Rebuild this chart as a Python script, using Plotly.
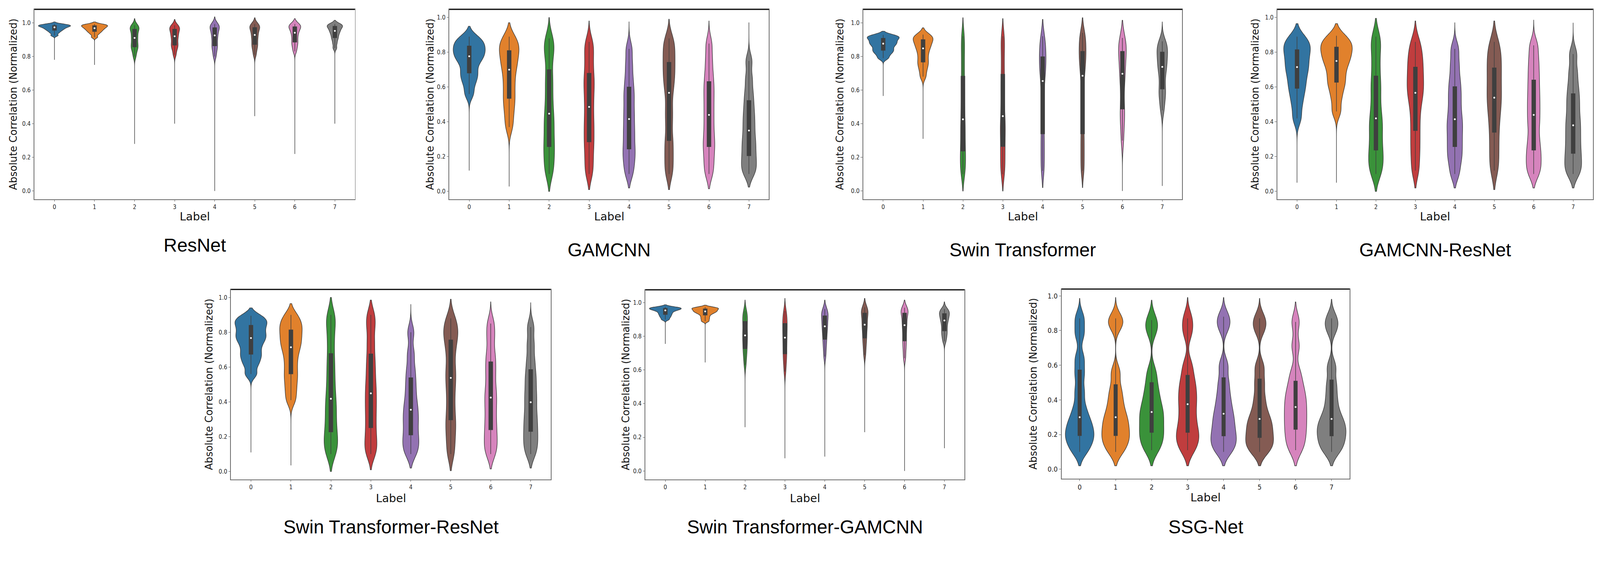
import numpy as np
import plotly.graph_objects as go

W, H = 4274, 1451

LABELS = [0, 1, 2, 3, 4, 5, 6, 7]
COLORS = ["#3274a1", "#e1812c", "#3a923a", "#c03d3e", "#9372b2", "#845b53", "#d684bd", "#7f7f7f"]
TITLES = ["ResNet", "GAMCNN", "Swin Transformer", "GAMCNN-ResNet",
          "Swin Transformer-ResNet", "Swin Transformer-GAMCNN", "SSG-Net"]
Y_TICKS = [0.0, 0.2, 0.4, 0.6, 0.8, 1.0]

# ---- per-label value samples (approx. quantiles) ----
RESNET = [
    [0.925, 0.94, 0.95, 0.957, 0.963, 0.968, 0.973, 0.977, 0.98, 0.983, 0.986, 0.989, 0.993],
    [0.915, 0.932, 0.943, 0.95, 0.957, 0.963, 0.968, 0.973, 0.977, 0.982, 0.985, 0.988, 0.992],
    [0.8, 0.83, 0.848, 0.86, 0.875, 0.893, 0.91, 0.925, 0.942, 0.96, 0.968, 0.976, 0.985],
    [0.81, 0.84, 0.858, 0.87, 0.887, 0.905, 0.92, 0.933, 0.947, 0.96, 0.968, 0.976, 0.985],
    [0.8, 0.83, 0.852, 0.867, 0.888, 0.907, 0.925, 0.94, 0.955, 0.969, 0.977, 0.985, 0.993],
    [0.81, 0.84, 0.86, 0.875, 0.895, 0.912, 0.928, 0.943, 0.957, 0.97, 0.977, 0.985, 0.993],
    [0.83, 0.855, 0.874, 0.889, 0.908, 0.925, 0.941, 0.953, 0.965, 0.975, 0.981, 0.987, 0.993],
    [0.85, 0.878, 0.9, 0.915, 0.93, 0.942, 0.952, 0.961, 0.97, 0.978, 0.983, 0.988, 0.993],
]
RESNET_TOP = [1.005, 1.005, 1.025, 1.02, 1.035, 1.03, 1.025, 1.015]
RESNET_BOTTOM = [0.78, 0.75, 0.28, 0.40, 0.0, 0.445, 0.22, 0.40]

GAMCNN = [
    [0.56, 0.62, 0.66, 0.688, 0.73, 0.757, 0.777, 0.795, 0.812, 0.832, 0.85, 0.868, 0.89],
    [0.37, 0.44, 0.5, 0.547, 0.6, 0.65, 0.70, 0.735, 0.77, 0.803, 0.83, 0.856, 0.89],
    [0.1, 0.16, 0.22, 0.27, 0.33, 0.39, 0.447, 0.52, 0.6, 0.677, 0.77, 0.83, 0.88],
    [0.1, 0.17, 0.24, 0.30, 0.36, 0.42, 0.486, 0.55, 0.61, 0.663, 0.73, 0.8, 0.86],
    [0.1, 0.16, 0.21, 0.255, 0.31, 0.36, 0.416, 0.47, 0.53, 0.584, 0.65, 0.73, 0.82],
    [0.1, 0.17, 0.24, 0.31, 0.4, 0.48, 0.567, 0.63, 0.68, 0.73, 0.78, 0.83, 0.88],
    [0.1, 0.16, 0.22, 0.27, 0.32, 0.38, 0.44, 0.5, 0.56, 0.616, 0.68, 0.76, 0.85],
    [0.1, 0.135, 0.175, 0.215, 0.26, 0.3, 0.35, 0.4, 0.45, 0.507, 0.57, 0.65, 0.75],
]
GAMCNN_TOP = [0.95, 0.97, 1.0, 0.98, 0.975, 0.99, 0.98, 0.97]
GAMCNN_BOTTOM = [0.12, 0.03, 0.0, 0.01, 0.02, 0.01, 0.015, 0.025]

SWIN = [
    [0.79, 0.812, 0.828, 0.839, 0.853, 0.866, 0.876, 0.885, 0.895, 0.906, 0.913, 0.92, 0.928],
    [0.68, 0.72, 0.75, 0.772, 0.8, 0.825, 0.848, 0.864, 0.88, 0.897, 0.908, 0.918, 0.93],
    [0.1, 0.15, 0.2, 0.25, 0.31, 0.37, 0.426, 0.5, 0.58, 0.66, 0.75, 0.84, 0.92],
    [0.1, 0.16, 0.22, 0.28, 0.34, 0.39, 0.445, 0.52, 0.6, 0.672, 0.76, 0.85, 0.92],
    [0.12, 0.2, 0.28, 0.36, 0.47, 0.57, 0.654, 0.71, 0.75, 0.788, 0.83, 0.87, 0.92],
    [0.12, 0.2, 0.28, 0.36, 0.49, 0.6, 0.685, 0.74, 0.785, 0.82, 0.86, 0.9, 0.94],
    [0.3, 0.39, 0.45, 0.5, 0.58, 0.65, 0.697, 0.745, 0.785, 0.822, 0.855, 0.882, 0.91],
    [0.48, 0.54, 0.58, 0.615, 0.665, 0.71, 0.738, 0.765, 0.795, 0.82, 0.845, 0.867, 0.89],
]
SWIN_TOP = [0.95, 0.97, 1.03, 1.025, 1.02, 1.03, 1.015, 1.005]
SWIN_BOTTOM = [0.565, 0.31, 0.0, 0.0, 0.02, 0.02, 0.0, 0.03]

GAMCNN_RESNET = [
    [0.42, 0.5, 0.56, 0.604, 0.645, 0.685, 0.715, 0.745, 0.78, 0.808, 0.835, 0.858, 0.89],
    [0.46, 0.54, 0.6, 0.637, 0.68, 0.72, 0.75, 0.775, 0.8, 0.825, 0.845, 0.867, 0.895],
    [0.1, 0.15, 0.2, 0.25, 0.31, 0.37, 0.42, 0.49, 0.57, 0.642, 0.73, 0.82, 0.89],
    [0.12, 0.21, 0.29, 0.37, 0.45, 0.52, 0.567, 0.61, 0.655, 0.703, 0.75, 0.8, 0.86],
    [0.1, 0.17, 0.22, 0.27, 0.32, 0.37, 0.415, 0.47, 0.53, 0.587, 0.65, 0.73, 0.82],
    [0.12, 0.2, 0.28, 0.36, 0.43, 0.49, 0.539, 0.59, 0.645, 0.697, 0.75, 0.8, 0.86],
    [0.1, 0.15, 0.2, 0.25, 0.31, 0.38, 0.44, 0.5, 0.56, 0.624, 0.69, 0.76, 0.84],
    [0.1, 0.14, 0.185, 0.23, 0.28, 0.33, 0.38, 0.43, 0.49, 0.546, 0.61, 0.69, 0.79],
]
GAMCNN_RESNET_TOP = [0.965, 0.965, 0.995, 0.98, 0.97, 0.98, 0.985, 0.97]
GAMCNN_RESNET_BOTTOM = [0.05, 0.05, 0.0, 0.02, 0.02, 0.01, 0.02, 0.02]

SWIN_RESNET = [
    [0.56, 0.615, 0.652, 0.681, 0.715, 0.745, 0.767, 0.787, 0.81, 0.835, 0.855, 0.873, 0.895],
    [0.41, 0.47, 0.525, 0.573, 0.625, 0.675, 0.714, 0.745, 0.775, 0.807, 0.835, 0.862, 0.9],
    [0.1, 0.145, 0.19, 0.24, 0.3, 0.36, 0.418, 0.49, 0.57, 0.654, 0.75, 0.84, 0.9],
    [0.1, 0.15, 0.205, 0.267, 0.33, 0.39, 0.449, 0.51, 0.58, 0.654, 0.74, 0.83, 0.9],
    [0.1, 0.14, 0.18, 0.22, 0.27, 0.31, 0.355, 0.4, 0.46, 0.522, 0.59, 0.68, 0.8],
    [0.1, 0.18, 0.25, 0.312, 0.39, 0.47, 0.538, 0.6, 0.68, 0.745, 0.79, 0.83, 0.88],
    [0.1, 0.15, 0.2, 0.253, 0.31, 0.37, 0.425, 0.48, 0.55, 0.614, 0.68, 0.77, 0.85],
    [0.1, 0.15, 0.195, 0.242, 0.29, 0.34, 0.398, 0.45, 0.51, 0.568, 0.64, 0.73, 0.83],
]
SWIN_RESNET_TOP = [0.94, 0.965, 1.0, 0.985, 0.96, 0.99, 0.975, 0.97]
SWIN_RESNET_BOTTOM = [0.11, 0.035, 0.0, 0.01, 0.02, 0.005, 0.015, 0.02]

SWIN_GAMCNN = [
    [0.9, 0.913, 0.923, 0.932, 0.94, 0.948, 0.954, 0.958, 0.962, 0.965, 0.968, 0.971, 0.975],
    [0.89, 0.904, 0.917, 0.929, 0.937, 0.943, 0.948, 0.952, 0.957, 0.962, 0.966, 0.969, 0.973],
    [0.63, 0.675, 0.707, 0.733, 0.76, 0.785, 0.805, 0.83, 0.855, 0.883, 0.905, 0.927, 0.95],
    [0.59, 0.64, 0.675, 0.703, 0.735, 0.765, 0.792, 0.82, 0.845, 0.87, 0.895, 0.92, 0.95],
    [0.68, 0.725, 0.76, 0.789, 0.815, 0.84, 0.859, 0.878, 0.898, 0.918, 0.932, 0.945, 0.962],
    [0.69, 0.735, 0.77, 0.796, 0.825, 0.85, 0.869, 0.89, 0.912, 0.935, 0.947, 0.958, 0.972],
    [0.67, 0.715, 0.75, 0.78, 0.81, 0.84, 0.866, 0.888, 0.912, 0.935, 0.947, 0.958, 0.97],
    [0.77, 0.798, 0.818, 0.837, 0.858, 0.878, 0.894, 0.907, 0.92, 0.933, 0.942, 0.95, 0.962],
]
SWIN_GAMCNN_TOP = [0.987, 0.985, 1.015, 1.025, 1.015, 1.025, 1.015, 1.005]
SWIN_GAMCNN_BOTTOM = [0.755, 0.645, 0.26, 0.075, 0.085, 0.23, 0.0, 0.135]

SSG_NET = [
    [0.1, 0.14, 0.175, 0.2, 0.23, 0.265, 0.3, 0.36, 0.45, 0.55, 0.64, 0.78, 0.87],
    [0.1, 0.14, 0.175, 0.2, 0.235, 0.27, 0.3, 0.345, 0.4, 0.464, 0.56, 0.83, 0.87],
    [0.11, 0.15, 0.19, 0.22, 0.26, 0.3, 0.33, 0.37, 0.42, 0.48, 0.56, 0.8, 0.86],
    [0.11, 0.15, 0.19, 0.22, 0.27, 0.32, 0.375, 0.42, 0.47, 0.523, 0.6, 0.79, 0.87],
    [0.1, 0.135, 0.17, 0.2, 0.24, 0.28, 0.32, 0.37, 0.43, 0.504, 0.6, 0.82, 0.88],
    [0.1, 0.13, 0.16, 0.19, 0.225, 0.26, 0.29, 0.34, 0.41, 0.498, 0.59, 0.81, 0.87],
    [0.11, 0.155, 0.2, 0.24, 0.28, 0.32, 0.359, 0.4, 0.44, 0.491, 0.56, 0.71, 0.85],
    [0.1, 0.135, 0.17, 0.2, 0.23, 0.26, 0.29, 0.34, 0.41, 0.49, 0.59, 0.81, 0.87],
]
SSG_NET_TOP = [0.985, 0.99, 0.975, 0.99, 0.99, 0.985, 0.965, 0.98]
SSG_NET_BOTTOM = [0.02, 0.02, 0.02, 0.02, 0.02, 0.02, 0.02, 0.02]

PANEL_DATA = [
    (RESNET, RESNET_TOP, RESNET_BOTTOM),
    (GAMCNN, GAMCNN_TOP, GAMCNN_BOTTOM),
    (SWIN, SWIN_TOP, SWIN_BOTTOM),
    (GAMCNN_RESNET, GAMCNN_RESNET_TOP, GAMCNN_RESNET_BOTTOM),
    (SWIN_RESNET, SWIN_RESNET_TOP, SWIN_RESNET_BOTTOM),
    (SWIN_GAMCNN, SWIN_GAMCNN_TOP, SWIN_GAMCNN_BOTTOM),
    (SSG_NET, SSG_NET_TOP, SSG_NET_BOTTOM),
]

# ---- layout geometry (pixels) ----
PANELS = [
    dict(l=92, r=948, t=25, b=532, yr=[-0.049, 1.08], yl=57, ty=655, xl=578, tf=16),
    dict(l=1200, r=2054, t=25, b=532, yr=[-0.045, 1.047], yl=51, ty=667, xl=578, tf=16),
    dict(l=2306, r=3158, t=25, b=532, yr=[-0.049, 1.08], yl=63, ty=667, xl=578, tf=16),
    dict(l=3412, r=4255, t=25, b=532, yr=[-0.045, 1.047], yl=59, ty=667, xl=578, tf=16),
    dict(l=617, r=1471, t=773, b=1280, yr=[-0.045, 1.046], yl=59, ty=1407, xl=1330, tf=16),
    dict(l=1724, r=2576, t=774, b=1280, yr=[-0.05, 1.076], yl=53, ty=1407, xl=1330, tf=16),
    dict(l=2836, r=3605, t=772, b=1278, yr=[-0.054, 1.039], yl=77, ty=1407, xl=1328, tf=19),
]

TICK_FONT = "Liberation Sans Narrow, DejaVu Sans Condensed, Arial Narrow, sans-serif"
LINE_GRAY = "#3f3f3f"


def kde_bw(vals, top, bot, f=0.5):
    a = np.asarray(vals, dtype=float)
    q1, q3 = np.percentile(a, [25, 75])
    s = min(a.std(ddof=1), (q3 - q1) / 1.349)
    bw = f * 1.06 * s * len(a) ** -0.2
    bw = min(bw, (top - a.max()) / 1.8)
    if a.min() - bot < 0.12:
        bw = min(bw, (a.min() - bot) / 1.8)
    return bw


fig = go.Figure()
layout = dict(
    width=W, height=H, autosize=False,
    margin=dict(l=0, r=0, t=0, b=0),
    paper_bgcolor="white", plot_bgcolor="white",
    violinmode="overlay", violingap=0.2, violingroupgap=0.0, showlegend=False,
    annotations=[], shapes=[],
)

for i, (p, (vals, tops, bottoms)) in enumerate(zip(PANELS, PANEL_DATA)):
    n = i + 1
    xa = "x" if n == 1 else f"x{n}"
    ya = "y" if n == 1 else f"y{n}"
    xdom = [p["l"] / W, p["r"] / W]
    ydom = [1 - p["b"] / H, 1 - p["t"] / H]
    axis_common = dict(
        showline=True, mirror=True, linecolor="#6a6a6a", linewidth=1.5,
        ticks="outside", ticklen=5, tickcolor="#555", tickwidth=1,
        showgrid=False, zeroline=False,
        tickfont=dict(family=TICK_FONT, size=p["tf"], color="#222"),
    )
    layout["xaxis" if n == 1 else f"xaxis{n}"] = dict(
        domain=xdom, anchor=ya, range=[-0.5, 7.5],
        tickmode="array", tickvals=LABELS, ticktext=[str(v) for v in LABELS],
        **axis_common)
    layout["yaxis" if n == 1 else f"yaxis{n}"] = dict(
        domain=ydom, anchor=xa, range=p["yr"],
        tickmode="array", tickvals=Y_TICKS, ticktext=[f"{v:.1f}" for v in Y_TICKS],
        **axis_common)

    for lab, v, top, bot, col in zip(LABELS, vals, tops, bottoms, COLORS):
        fig.add_trace(go.Violin(
            y=v, x0=lab, xaxis=xa, yaxis=ya, name=f"{TITLES[i]} {lab}",
            scalegroup=f"panel{n}", scalemode="width",
            spanmode="manual", span=[bot, top], bandwidth=kde_bw(v, top, bot),
            fillcolor=col, opacity=1, line=dict(color=LINE_GRAY, width=1.5),
            points=False, meanline_visible=False,
            box=dict(visible=True, width=0.12, fillcolor=LINE_GRAY,
                     line=dict(color=LINE_GRAY, width=1.5)),
            hoverinfo="skip", showlegend=False,
        ))
    fig.add_trace(go.Scatter(
        x=LABELS, y=[float(np.median(v)) for v in vals], xaxis=xa, yaxis=ya,
        mode="markers", marker=dict(color="white", size=5, line=dict(width=0)),
        hoverinfo="skip", showlegend=False,
    ))

    # darker top frame line
    layout["shapes"].append(dict(
        type="line", xref="paper", yref="paper",
        x0=p["l"] / W, x1=p["r"] / W, y0=1 - p["t"] / H, y1=1 - p["t"] / H,
        line=dict(color="#111", width=3)))

    cx = (p["l"] + p["r"]) / 2 / W
    cy = 1 - (p["t"] + p["b"]) / 2 / H
    layout["annotations"].append(dict(
        text="Absolute Correlation (Normalized)", textangle=-90,
        xref="paper", yref="paper", x=(p["l"] - p["yl"]) / W, y=cy,
        xanchor="center", yanchor="middle", showarrow=False,
        font=dict(family="DejaVu Sans", size=27, color="#111")))
    layout["annotations"].append(dict(
        text="Label", xref="paper", yref="paper", x=cx, y=1 - p["xl"] / H,
        xanchor="center", yanchor="middle", showarrow=False,
        font=dict(family="DejaVu Sans", size=30, color="#111")))
    layout["annotations"].append(dict(
        text=TITLES[i], xref="paper", yref="paper", x=cx, y=1 - p["ty"] / H,
        xanchor="center", yanchor="middle", showarrow=False,
        font=dict(family="Liberation Sans, Arial, sans-serif", size=50, color="#000")))

fig.update_layout(**layout)

FIT_JS = (
    "var gd = document.getElementById('{plot_id}');"
    "document.documentElement.style.margin='0';"
    "document.body.style.margin='0';"
    "document.documentElement.style.overflow='hidden';"
    "document.body.style.overflow='hidden';"
    "var s = window.innerWidth / 4274;"
    "gd.style.transformOrigin='0 0';"
    "if (Math.abs(s - 1) > 0.002) gd.style.transform='scale(' + s + ')';"
)
fig.write_html("out.html", post_script=FIT_JS, config={"displayModeBar": False})
